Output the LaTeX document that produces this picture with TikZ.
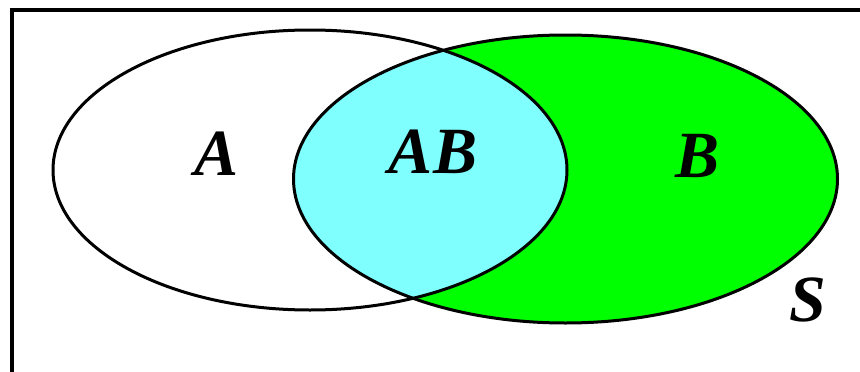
\documentclass[tikz,border=0pt]{standalone}
\usepackage{fontspec}
\setmainfont{Liberation Serif}
\begin{document}
\begin{tikzpicture}[x=1pt,y=-1pt,
  outline/.style={draw=black,line width=3pt},
  lbl/.style={font=\fontsize{66}{66}\selectfont\bfseries\itshape,inner sep=0pt,anchor=base}]
\definecolor{bgreen}{HTML}{00FF00}
\definecolor{bcyan}{HTML}{80FFFF}
\useasboundingbox (0,0) rectangle (860,372);
\fill[white] (0,0) rectangle (860,372);
% set B
\fill[bgreen] (565.5,179) ellipse [x radius=272, y radius=144];
% intersection AB
\begin{scope}
  \clip (310,170) ellipse [x radius=257, y radius=140];
  \fill[bcyan] (565.5,179) ellipse [x radius=272, y radius=144];
\end{scope}
\draw[outline] (310,170) ellipse [x radius=257, y radius=140];
\draw[outline] (565.5,179) ellipse [x radius=272, y radius=144];
% sample space frame
\draw[line width=4pt] (11.5,372) -- (11.5,10) -- (860,10);
\node[lbl] (la) at (217,175) {A};
\node[lbl] (lab) at (433,173) {AB};
\node[lbl] (lb) at (698,177) {B};
\node[lbl] (ls) at (808,321) {S};
\end{tikzpicture}
\end{document}
